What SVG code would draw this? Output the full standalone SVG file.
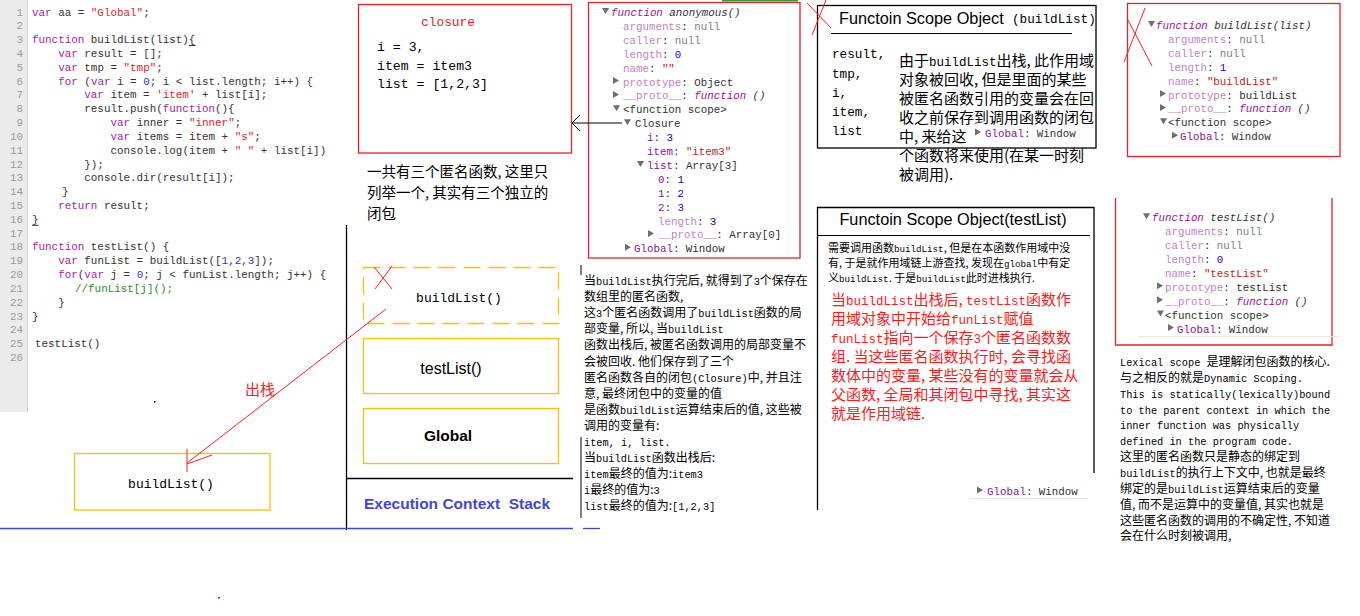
<svg xmlns="http://www.w3.org/2000/svg" width="1360" height="616" viewBox="0 0 1360 616">
<style>
.code{font-family:"Liberation Mono",monospace;font-size:10.9px;fill:#333}
.ln{font-family:"Liberation Mono",monospace;font-size:10.9px;fill:#9a9a9a;text-anchor:end}
.k{fill:#a7239f}.s{fill:#e3242b}.n{fill:#2f2fe8}.c{fill:#2b8a2b}
.dt{font-family:"Liberation Mono",monospace;font-size:10.8px;fill:#303030}
.dp{fill:#bf84c4}.ep{fill:#881391}.nl{fill:#808080}.num{fill:#1c00cf}.str{fill:#c41a16}.fn{fill:#aa0d91;font-style:italic}.it{font-style:italic}
.cj{font-family:"Noto Sans CJK SC",sans-serif;fill:#000}
.m{font-family:"Liberation Mono",monospace}
.t12{font-size:12px}.t12 .m{font-size:10.3px}
.t15{font-size:15px}.t15 .m{font-size:12.5px}
.t11{font-size:11px}.t11 .m{font-size:9.2px}
.mono{font-family:"Liberation Mono",monospace;fill:#000}
.ttl{font-family:"Liberation Sans",Arial,sans-serif;font-size:16.3px;fill:#000}
.red{fill:none;stroke:#e8202a;stroke-width:1.3}
.org{fill:none;stroke:#ffc000;stroke-width:1.3}
.blk{fill:none;stroke:#000;stroke-width:1.3}
.rl{fill:none;stroke:#ff2020;stroke-width:1}
</style>
<defs>
<path id="td" d="M0,-8 h7 l-3.5,6 z" fill="#6e6e6e"/>
<path id="tr" d="M0,-8.5 v7 l6,-3.5 z" fill="#6e6e6e"/>
</defs>
<rect width="1360" height="616" fill="#fff"/>

<g id="code">
<rect x="0" y="0" width="27" height="412" fill="#ebebeb"/>
<line x1="27.5" y1="0" x2="27.5" y2="412" stroke="#d2d2d2"/>
<g class="ln">
<text x="23" y="15.5">1</text><text x="23" y="29.3">2</text><text x="23" y="43.1">3</text><text x="23" y="57">4</text><text x="23" y="70.8">5</text><text x="23" y="84.6">6</text><text x="23" y="98.4">7</text><text x="23" y="112.2">8</text><text x="23" y="126">9</text><text x="23" y="139.9">10</text><text x="23" y="153.7">11</text><text x="23" y="167.5">12</text><text x="23" y="181.3">13</text><text x="23" y="195.1">14</text><text x="23" y="208.9">15</text><text x="23" y="222.8">16</text><text x="23" y="236.6">17</text><text x="23" y="250.4">18</text><text x="23" y="264.2">19</text><text x="23" y="278">20</text><text x="23" y="291.8">21</text><text x="23" y="305.7">22</text><text x="23" y="319.5">23</text><text x="23" y="333.3">24</text><text x="23" y="347.1">25</text><text x="23" y="360.9">26</text>
</g>
<g class="code">
<text x="32" y="15.5"><tspan class="k">var</tspan> aa = <tspan class="s">"Global"</tspan>;</text>
<text x="32" y="43.1"><tspan class="k">function</tspan> buildList(list){</text>
<line x1="189" y1="45.5" x2="195.5" y2="45.5" stroke="#333" stroke-width="1"/>
<text x="58.2" y="57"><tspan class="k">var</tspan> result = [];</text>
<text x="58.2" y="70.8"><tspan class="k">var</tspan> tmp = <tspan class="s">"tmp"</tspan>;</text>
<text x="58.2" y="84.6"><tspan class="k">for</tspan> (<tspan class="k">var</tspan> i = <tspan class="n">0</tspan>; i &lt; list.length; i++) {</text>
<text x="84.3" y="98.4"><tspan class="k">var</tspan> item = <tspan class="s">'item'</tspan> + list[i];</text>
<text x="84.3" y="112.2">result.push(<tspan class="k">function</tspan>(){</text>
<text x="110.5" y="126"><tspan class="k">var</tspan> inner = <tspan class="s">"inner"</tspan>;</text>
<text x="110.5" y="139.9"><tspan class="k">var</tspan> items = item + <tspan class="s">"s"</tspan>;</text>
<text x="110.5" y="153.7">console.log(item + <tspan class="s">" "</tspan> + list[i])</text>
<text x="84.3" y="167.5">});</text>
<text x="84.3" y="181.3">console.dir(result[i]);</text>
<text x="62" y="195.1">}</text>
<text x="58.2" y="208.9"><tspan class="k">return</tspan> result;</text>
<text x="32" y="222.8">}</text>
<line x1="32" y1="225.3" x2="38.5" y2="225.3" stroke="#333" stroke-width="1"/>
<text x="32" y="250.4"><tspan class="k">function</tspan> testList() {</text>
<text x="58.2" y="264.2"><tspan class="k">var</tspan> funList = buildList([<tspan class="n">1</tspan>,<tspan class="n">2</tspan>,<tspan class="n">3</tspan>]);</text>
<text x="58.2" y="278"><tspan class="k">for</tspan>(<tspan class="k">var</tspan> j = <tspan class="n">0</tspan>; j &lt; funList.length; j++) {</text>
<text x="75" y="291.8" class="c">//funList[j]();</text>
<text x="58.2" y="305.7">}</text>
<text x="32" y="319.5">}</text>
<text x="35" y="347.1">testList()</text>
</g>
<rect x="154" y="401" width="1.5" height="1.5" fill="#000"/>
<rect x="218" y="597" width="2" height="1.5" fill="#3f48cc"/>
</g>

<g id="closure">
<rect class="red" x="358.5" y="4.5" width="213" height="148.5"/>
<text class="mono" x="448" y="26" font-size="12.9" text-anchor="middle" style="fill:#e8202a">closure</text>
<text class="mono" x="377" y="51" font-size="13.2">i = 3,</text>
<text class="mono" x="377" y="69.5" font-size="13.2">item = item3</text>
<text class="mono" x="377" y="88" font-size="13.2">list = [1,2,3]</text>
</g>

<g id="closure-note" class="cj" font-size="14.5">
<text x="367" y="177">一共有三个匿名函数, 这里只</text>
<text x="367" y="198">列举一个, 其实有三个独立的</text>
<text x="367" y="219">闭包</text>
</g>

<g id="devtools-anonymous">
<rect class="red" x="588.5" y="2.5" width="211.5" height="255.5"/>
<line x1="722" y1="0.7" x2="798" y2="0.7" stroke="#22a032" stroke-width="1.5"/>
<g class="dt">
<use href="#td" x="602" y="16"/><text x="611" y="16"><tspan class="fn">function</tspan><tspan class="it"> anonymous()</tspan></text>
<text x="623" y="29.9"><tspan class="dp">arguments</tspan>: <tspan class="nl">null</tspan></text>
<text x="623" y="43.8"><tspan class="dp">caller</tspan>: <tspan class="nl">null</tspan></text>
<text x="623" y="57.7"><tspan class="dp">length</tspan>: <tspan class="num">0</tspan></text>
<text x="623" y="71.6"><tspan class="dp">name</tspan>: <tspan class="str">""</tspan></text>
<use href="#tr" x="613" y="85.5"/><text x="623" y="85.5"><tspan class="dp">prototype</tspan>: Object</text>
<use href="#tr" x="613" y="99.4"/><text x="623" y="99.4"><tspan class="dp">__proto__</tspan>: <tspan class="fn">function</tspan><tspan class="it"> ()</tspan></text>
<use href="#td" x="613" y="113.3"/><text x="623" y="113.3">&lt;function scope&gt;</text>
<use href="#td" x="624" y="127.2"/><text x="635" y="127.2">Closure</text>
<text x="647" y="141.1"><tspan class="ep">i</tspan>: <tspan class="num">3</tspan></text>
<text x="647" y="155"><tspan class="ep">item</tspan>: <tspan class="str">"item3"</tspan></text>
<use href="#td" x="637" y="168.9"/><text x="647" y="168.9"><tspan class="ep">list</tspan>: Array[3]</text>
<text x="658" y="182.8"><tspan class="ep">0</tspan>: <tspan class="num">1</tspan></text>
<text x="658" y="196.7"><tspan class="ep">1</tspan>: <tspan class="num">2</tspan></text>
<text x="658" y="210.6"><tspan class="ep">2</tspan>: <tspan class="num">3</tspan></text>
<text x="658" y="224.5"><tspan class="dp">length</tspan>: <tspan class="num">3</tspan></text>
<use href="#tr" x="648" y="238.4"/><text x="658" y="238.4"><tspan class="dp">__proto__</tspan>: Array[0]</text>
<use href="#tr" x="625" y="252.3"/><text x="634" y="252.3"><tspan class="ep">Global</tspan>: Window</text>
</g>
</g>

<g id="scope-buildList">
<rect class="blk" x="817.5" y="5.5" width="278.5" height="142.5"/>
<text class="ttl" x="839" y="24">Functoin Scope Object</text>
<text class="mono" x="1012" y="23" font-size="12.7">(buildList)</text>
<line x1="831" y1="33.5" x2="1072" y2="33.5" stroke="#000" stroke-width="1"/>
<g class="mono" font-size="12.7">
<text x="832" y="58">result,</text>
<text x="832" y="77.5">tmp,</text>
<text x="832" y="97">i,</text>
<text x="832" y="116">item,</text>
<text x="832" y="135">list</text>
</g>
<g class="cj t15">
<text x="899" y="66">由于<tspan class="m">buildList</tspan>出栈, 此作用域</text>
<text x="899" y="85">对象被回收, 但是里面的某些</text>
<text x="899" y="104">被匿名函数引用的变量会在回</text>
<text x="899" y="122.5">收之前保存到调用函数的闭包</text>
<text x="899" y="141.5">中, 来给这</text>
<text x="899" y="161">个函数将来使用(在某一时刻</text>
<text x="899" y="179.5">被调用).</text>
</g>
<use href="#tr" x="975" y="137"/>
<text class="dt" x="985" y="137"><tspan class="ep">Global</tspan>: Window</text>
</g>

<g id="devtools-buildList">
<rect class="red" x="1127.5" y="3.5" width="212.5" height="153"/>
<g class="dt">
<use href="#td" x="1148" y="29"/><text x="1156" y="29"><tspan class="fn">function</tspan><tspan class="it"> buildList(list)</tspan></text>
<text x="1168" y="42.9"><tspan class="dp">arguments</tspan>: <tspan class="nl">null</tspan></text>
<text x="1168" y="56.8"><tspan class="dp">caller</tspan>: <tspan class="nl">null</tspan></text>
<text x="1168" y="70.7"><tspan class="dp">length</tspan>: <tspan class="num">1</tspan></text>
<text x="1168" y="84.6"><tspan class="dp">name</tspan>: <tspan class="str">"buildList"</tspan></text>
<use href="#tr" x="1160" y="98.5"/><text x="1168" y="98.5"><tspan class="dp">prototype</tspan>: buildList</text>
<use href="#tr" x="1160" y="112.4"/><text x="1168" y="112.4"><tspan class="dp">__proto__</tspan>: <tspan class="fn">function</tspan><tspan class="it"> ()</tspan></text>
<use href="#td" x="1160" y="126.3"/><text x="1168" y="126.3">&lt;function scope&gt;</text>
<use href="#tr" x="1172" y="140.2"/><text x="1180" y="140.2"><tspan class="ep">Global</tspan>: Window</text>
</g>
</g>

<g id="stack">
<line class="blk" x1="346.5" y1="225" x2="346.5" y2="530"/>
<line class="blk" x1="346" y1="478.5" x2="573" y2="478.5"/>
<rect class="org" x="363.5" y="267.5" width="195" height="56" stroke-dasharray="17 8"/>
<text class="mono" x="459" y="302" font-size="13" text-anchor="middle">buildList()</text>
<rect class="org" x="363.5" y="338.5" width="195" height="55"/>
<text x="451" y="374" font-family="Liberation Sans,Arial,sans-serif" font-size="16" text-anchor="middle">testList()</text>
<rect class="org" x="363.5" y="408.5" width="195" height="55"/>
<text x="448" y="441" font-family="Liberation Sans,Arial,sans-serif" font-size="15.5" font-weight="bold" text-anchor="middle">Global</text>
<text x="364" y="509" font-family="Liberation Sans,Arial,sans-serif" font-size="15.5" font-weight="bold" fill="#4147d5" xml:space="preserve">Execution Context  Stack</text>
</g>

<g id="popped-buildList">
<rect class="org" x="74.5" y="453.5" width="195.5" height="56.5"/>
<text class="mono" x="171" y="488" font-size="13" text-anchor="middle">buildList()</text>
</g>

<g id="note-middle" class="cj t12">
<text x="584" y="285">当<tspan class="m">buildList</tspan>执行完后, 就得到了<tspan class="m">3</tspan>个保存在</text>
<text x="584" y="301.1">数组里的匿名函数,</text>
<text x="584" y="317.2">这<tspan class="m">3</tspan>个匿名函数调用了<tspan class="m">buildList</tspan>函数的局</text>
<text x="584" y="333.3">部变量, 所以, 当<tspan class="m">buildList</tspan></text>
<text x="584" y="349.4">函数出栈后, 被匿名函数调用的局部变量不</text>
<text x="584" y="365.5">会被回收. 他们保存到了三个</text>
<text x="584" y="381.6">匿名函数各自的闭包<tspan class="m">(Closure)</tspan>中, 并且注</text>
<text x="584" y="397.7">意, 最终闭包中的变量的值</text>
<text x="584" y="413.8">是函数<tspan class="m">buildList</tspan>运算结束后的值, 这些被</text>
<text x="584" y="429.9">调用的变量有:</text>
<text x="584" y="446"><tspan class="m">item, i, list.</tspan></text>
<text x="584" y="462.1">当<tspan class="m">buildList</tspan>函数出栈后:</text>
<text x="584" y="478.2"><tspan class="m">item</tspan>最终的值为:<tspan class="m">item3</tspan></text>
<text x="584" y="494.3"><tspan class="m">i</tspan>最终的值为:<tspan class="m">3</tspan></text>
<text x="584" y="510.4"><tspan class="m">list</tspan>最终的值为:<tspan class="m">[1,2,3]</tspan></text>
</g>
<line x1="581" y1="265" x2="581" y2="275" stroke="#000"/>
<line x1="581" y1="437" x2="581" y2="518" stroke="#000"/>

<g id="scope-testList">
<path class="blk" d="M817.5,510 V207.5 H1094 V473"/>
<text class="ttl" x="953" y="225" text-anchor="middle">Functoin Scope Object(testList)</text>
<line x1="817" y1="235.5" x2="1090" y2="235.5" stroke="#000" stroke-width="1"/>
<g class="cj t11" fill="#222">
<text x="828" y="252">需要调用函数<tspan class="m">buildList</tspan>, 但是在本函数作用域中没</text>
<text x="828" y="267">有, 于是就作用域链上游查找, 发现在<tspan class="m">global</tspan>中有定</text>
<text x="828" y="282">义<tspan class="m">buildList</tspan>. 于是<tspan class="m">buildList</tspan>此时进栈执行.</text>
</g>
<g class="cj t15" style="fill:#ff1a1a">
<text x="831" y="305" style="fill:#ff1a1a">当<tspan class="m">buildList</tspan>出栈后, <tspan class="m">testList</tspan>函数作</text>
<text x="831" y="324" style="fill:#ff1a1a">用域对象中开始给<tspan class="m">funList</tspan>赋值</text>
<text x="831" y="343" style="fill:#ff1a1a"><tspan class="m">funList</tspan>指向一个保存<tspan class="m">3</tspan>个匿名函数数</text>
<text x="831" y="362" style="fill:#ff1a1a">组. 当这些匿名函数执行时, 会寻找函</text>
<text x="831" y="381" style="fill:#ff1a1a">数体中的变量, 某些没有的变量就会从</text>
<text x="831" y="400" style="fill:#ff1a1a">父函数, 全局和其闭包中寻找, 其实这</text>
<text x="831" y="419" style="fill:#ff1a1a">就是作用域链.</text>
</g>
<use href="#tr" x="977" y="495"/>
<text class="dt" x="987" y="495"><tspan class="ep">Global</tspan>: Window</text>
<line x1="970" y1="498.5" x2="1088" y2="498.5" stroke="#e6e6e6"/>
</g>

<g id="devtools-testList">
<path class="red" d="M1115.5,198 V345 H1332 V198"/>
<g class="dt">
<use href="#td" x="1143" y="221.3"/><text x="1152" y="221.3"><tspan class="fn">function</tspan><tspan class="it"> testList()</tspan></text>
<text x="1165" y="235.2"><tspan class="dp">arguments</tspan>: <tspan class="nl">null</tspan></text>
<text x="1165" y="249.1"><tspan class="dp">caller</tspan>: <tspan class="nl">null</tspan></text>
<text x="1165" y="263"><tspan class="dp">length</tspan>: <tspan class="num">0</tspan></text>
<text x="1165" y="276.9"><tspan class="dp">name</tspan>: <tspan class="str">"testList"</tspan></text>
<use href="#tr" x="1157" y="290.8"/><text x="1165" y="290.8"><tspan class="dp">prototype</tspan>: testList</text>
<use href="#tr" x="1157" y="304.7"/><text x="1165" y="304.7"><tspan class="dp">__proto__</tspan>: <tspan class="fn">function</tspan><tspan class="it"> ()</tspan></text>
<use href="#td" x="1157" y="318.6"/><text x="1165" y="318.6">&lt;function scope&gt;</text>
<use href="#tr" x="1168" y="332.5"/><text x="1177" y="332.5"><tspan class="ep">Global</tspan>: Window</text>
</g>
<line x1="1138" y1="336.5" x2="1340" y2="336.5" stroke="#e6e6e6"/>
</g>

<g id="note-right" class="cj t12">
<text x="1120" y="366"><tspan class="m">Lexical scope </tspan>是理解闭包函数的核心.</text>
<text x="1120" y="381.9">与之相反的就是<tspan class="m">Dynamic Scoping.</tspan></text>
<text x="1120" y="397.7" class="m" font-size="10">This is statically(lexically)bound</text>
<text x="1120" y="413.6" class="m" font-size="10">to the parent context in which the</text>
<text x="1120" y="429.4" class="m" font-size="10">inner function was physically</text>
<text x="1120" y="445.3" class="m" font-size="10">defined in the program code.</text>
<text x="1120" y="461.1">这里的匿名函数只是静态的绑定到</text>
<text x="1120" y="477"><tspan class="m">buildList</tspan>的执行上下文中, 也就是最终</text>
<text x="1120" y="492.8">绑定的是<tspan class="m">buildList</tspan>运算结束后的变量</text>
<text x="1120" y="508.7">值, 而不是运算中的变量值, 其实也就是</text>
<text x="1120" y="524.5">这些匿名函数的调用的不确定性, 不知道</text>
<text x="1120" y="540.4">会在什么时刻被调用,</text>
</g>

<g id="marks">
<line class="rl" x1="374" y1="267" x2="392" y2="289"/>
<line class="rl" x1="392" y1="266" x2="375" y2="289"/>
<line class="rl" x1="807" y1="3" x2="831" y2="28"/>
<line class="rl" x1="826" y1="0" x2="812" y2="35"/>
<line class="rl" x1="1128" y1="20" x2="1152" y2="66"/>
<line class="rl" x1="1145" y1="8" x2="1124" y2="62"/>
</g>

<g id="connectors">
<line x1="573" y1="123" x2="622" y2="123" stroke="#000" stroke-width="1"/>
<path d="M580,115 L572,123 L580,131" fill="none" stroke="#000" stroke-width="1"/>
<line class="rl" x1="386" y1="309" x2="187" y2="463"/>
<path class="rl" d="M187,449 L187,472 M212,455 L187,464"/>
<text class="cj" x="245" y="395" font-size="15" style="fill:#ff2020">出栈</text>
<line x1="0" y1="528.5" x2="573" y2="528.5" stroke="#3f48cc" stroke-width="1.3"/>
<line x1="583" y1="528.5" x2="600" y2="528.5" stroke="#3f48cc" stroke-width="1.3"/>
</g>
</svg>
